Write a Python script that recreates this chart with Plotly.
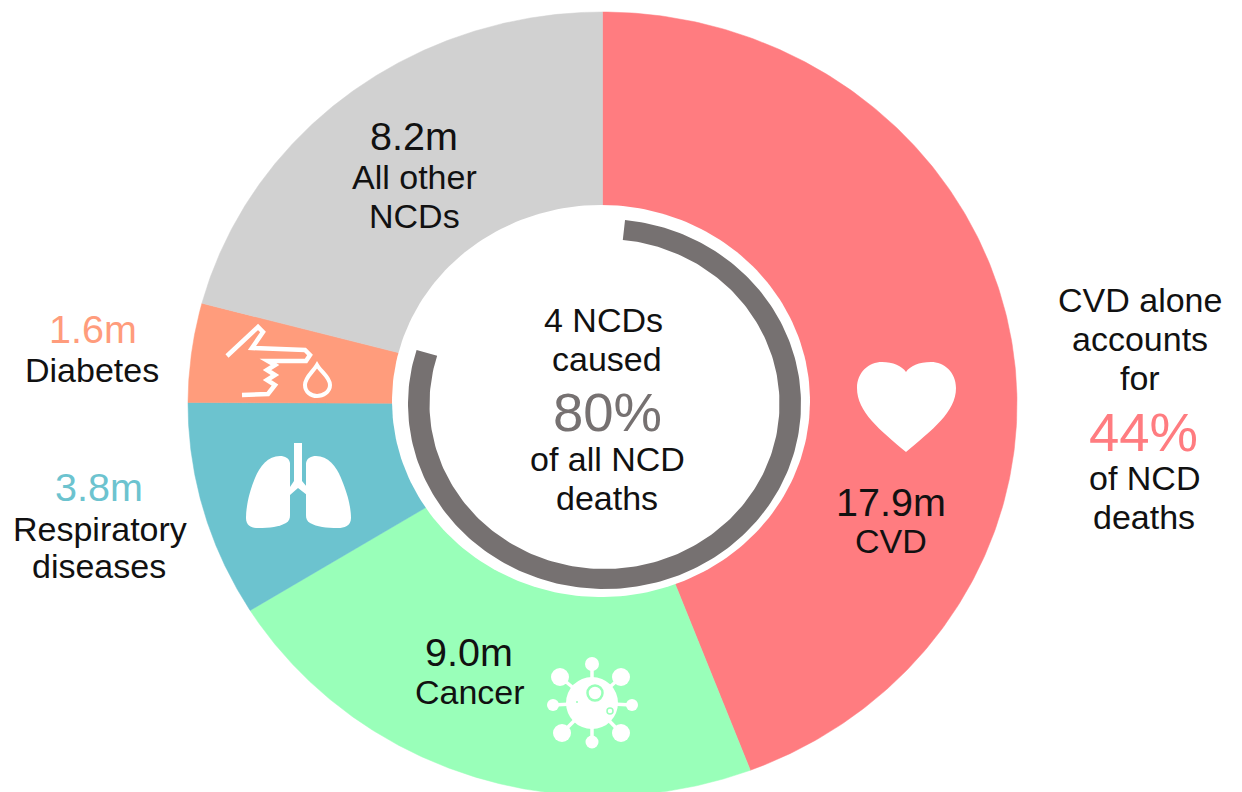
import numpy as np
import plotly.graph_objects as go

# ---------- data ----------
categories = ["CVD", "Cancer", "Respiratory diseases", "Diabetes", "All other NCDs"]
deaths_label = ["17.9m", "9.0m", "3.8m", "1.6m", "8.2m"]
slice_sizes = [17.9, 8.9, 3.6, 1.65, 8.45]   # sweep of each slice
slice_colors = ["#FF7C80", "#99FFB9", "#6CC3CF", "#FF9C7C", "#D1D1D1"]
ring_start_deg = 6
ring_end_deg = 287

# ---------- page geometry ----------
W, H = 1242, 792
CX, CY, RX, RY = 602.5, 404, 414.5, 392


def dx(p):
    return (p - CX) / RX


def dy(p):
    return (CY - p) / RY


def arc(theta0, theta1, r, cx=0.0, cy=0.0, ry=None, n=240):
    t = np.radians(np.linspace(theta0, theta1, n))
    ry = r if ry is None else ry
    return cx + r * np.sin(t), cy + ry * np.cos(t)


fig = go.Figure()

# slices
total = sum(slice_sizes)
start = 0.0
for name, size, col in zip(categories, slice_sizes, slice_colors):
    end = start + size / total * 360
    x, y = arc(start, end, 1.0)
    fig.add_trace(go.Scatter(
        x=np.r_[0, x, 0], y=np.r_[0, y, 0], mode="lines", fill="toself",
        fillcolor=col, line=dict(width=0.5, color=col), name=name,
        hoverinfo="name", showlegend=False))
    start = end

# hole
hx, hy = arc(0, 360, 209 / RX, dx(601), dy(401), 196 / RY)
fig.add_trace(go.Scatter(x=hx, y=hy, mode="lines", fill="toself", fillcolor="white",
                         line=dict(width=0, color="white"), hoverinfo="skip", showlegend=False))

# grey ring
ox, oy = arc(ring_start_deg, ring_end_deg, 196.5 / RX, dx(604.5), dy(404), 185 / RY)
ix, iy = arc(ring_end_deg, ring_start_deg, 175 / RX, dx(604.5), dy(404), 165 / RY)
fig.add_trace(go.Scatter(x=np.r_[ox, ix, ox[0]], y=np.r_[oy, iy, oy[0]], mode="lines", fill="toself",
                         fillcolor="#767171", line=dict(width=0, color="#767171"),
                         name="4 NCDs", hoverinfo="name", showlegend=False))


# ---------- icons (white pictograms) ----------
def pt(p):
    return f"{dx(p[0]):.5f},{dy(p[1]):.5f}"


def poly(points, close=False):
    s = "M" + pt(points[0]) + "".join(" L" + pt(p) for p in points[1:])
    return s + (" Z" if close else "")


def curve(first, *segments, close=True):
    s = "M" + pt(first)
    for a, b, c in segments:
        s += " C" + pt(a) + " " + pt(b) + " " + pt(c)
    return s + (" Z" if close else "")


shapes = []


def filled(path, color="white"):
    shapes.append(dict(type="path", path=path, fillcolor=color, line=dict(width=0), layer="above"))


def stroked(path, width=4.5):
    shapes.append(dict(type="path", path=path, fillcolor="rgba(0,0,0,0)",
                       line=dict(color="white", width=width), layer="above"))


def circle(x, y, r, fill="white", line=None, lw=0):
    shapes.append(dict(type="circle", x0=dx(x - r), x1=dx(x + r), y0=dy(y - r), y1=dy(y + r),
                       fillcolor=fill, line=dict(color=line or fill, width=lw), layer="above"))


# heart
filled(curve((906, 452),
             ((880, 430), (857, 412), (857, 388)), ((857, 372), (869, 362), (882, 362)),
             ((893, 362), (902, 366), (906, 372)), ((910, 366), (919, 362), (931, 362)),
             ((944, 362), (956, 372), (956, 388)), ((956, 412), (932, 430), (906, 452))))

# lungs
filled(poly([(294, 443), (302, 443), (302, 481), (307, 487), (307, 495), (298, 488), (290, 495),
             (290, 487), (294, 481)], close=True))
filled(curve((290, 463),
             ((289, 458), (285, 456), (280, 456)), ((268, 456), (260, 466), (255, 478)),
             ((250, 490), (246, 505), (246, 518)), ((246, 526), (252, 528), (258, 528)),
             ((270, 528), (279, 527), (286, 523)), ((289, 521), (290, 519), (290, 515))))
filled(curve((306, 463),
             ((307, 458), (311, 456), (316, 456)), ((328, 456), (336, 466), (341, 478)),
             ((346, 490), (351, 505), (351, 518)), ((351, 526), (344, 528), (338, 528)),
             ((326, 528), (317, 527), (310, 523)), ((307, 521), (306, 519), (306, 515))))

# hand and drop
stroked(poly([(227, 356), (258, 327), (263, 332), (252, 348), (305, 350), (310, 355), (306, 361),
              (268, 361), (275, 365), (267, 370), (275, 375), (267, 380), (275, 385), (268, 394), (242, 395)]))
stroked(curve((317, 365),
              ((313, 372), (305, 377), (305, 385)), ((305, 392), (311, 396), (317, 396)),
              ((323, 396), (330, 392), (330, 385)), ((330, 377), (321, 372), (317, 365))), 4)

# virus
vx, vy = 592, 703
balls = [(592, 664, 7), (560, 677, 9), (621, 677, 9), (553, 705, 6), (632, 705, 6),
         (562, 733, 9), (621, 733, 9), (592, 742, 6.5)]
for bx, by, br in balls:
    stroked(poly([(vx, vy), (bx, by)]), 3.5)
    circle(bx, by, br)
circle(vx, vy, 26)
circle(595, 693, 7.5, "white", slice_colors[1], 2.5)
circle(610, 711, 3, "white", slice_colors[1], 1.5)
circle(577, 702, 1, slice_colors[1])

# ---------- text ----------
SMALL, BIG, HUGE = 34, 39.5, 54.5
BLACK, GREY = "#111111", "#767171"
texts = [
    (deaths_label[4], 414, 136, BIG, BLACK), ("All other", 414, 177, SMALL, BLACK), ("NCDs", 414, 216, SMALL, BLACK),
    (deaths_label[3], 93, 329, BIG, slice_colors[3]), ("Diabetes", 92, 370, SMALL, BLACK),
    (deaths_label[2], 99, 487, BIG, slice_colors[2]), ("Respiratory", 100, 529, SMALL, BLACK),
    ("diseases", 99, 566, SMALL, BLACK),
    (deaths_label[1], 469, 652, BIG, BLACK), ("Cancer", 470, 692, SMALL, BLACK),
    (deaths_label[0], 891, 502, BIG, BLACK), ("CVD", 891, 541, SMALL, BLACK),
    ("CVD alone", 1140, 300, SMALL, BLACK), ("accounts", 1140, 339, SMALL, BLACK), ("for", 1140, 378, SMALL, BLACK),
    ("44%", 1143, 432, HUGE, slice_colors[0]), ("of NCD", 1144, 478, SMALL, BLACK), ("deaths", 1144, 517, SMALL, BLACK),
    ("4 NCDs", 603, 320, SMALL, BLACK), ("caused", 607, 359, SMALL, BLACK), ("80%", 607, 412, HUGE, GREY),
    ("of all NCD", 607, 459, SMALL, BLACK), ("deaths", 607, 498, SMALL, BLACK),
]
annotations = [
    dict(text=t, x=dx(px), y=dy(py), xref="x", yref="y", showarrow=False, xanchor="center", yanchor="middle",
         font=dict(family="Liberation Sans, Arial, sans-serif", size=s, color=c))
    for t, px, py, s, c in texts
]

fig.update_layout(
    width=W, height=H, margin=dict(l=0, r=0, t=0, b=0),
    paper_bgcolor="white", plot_bgcolor="white", showlegend=False,
    xaxis=dict(range=[dx(0), dx(W)], visible=False, fixedrange=True),
    yaxis=dict(range=[dy(H), dy(0)], visible=False, fixedrange=True),
    shapes=shapes, annotations=annotations,
)

fig.write_html("out.html", config={"displayModeBar": False},
               post_script="document.body.style.margin='0';document.body.style.overflow='hidden';")
